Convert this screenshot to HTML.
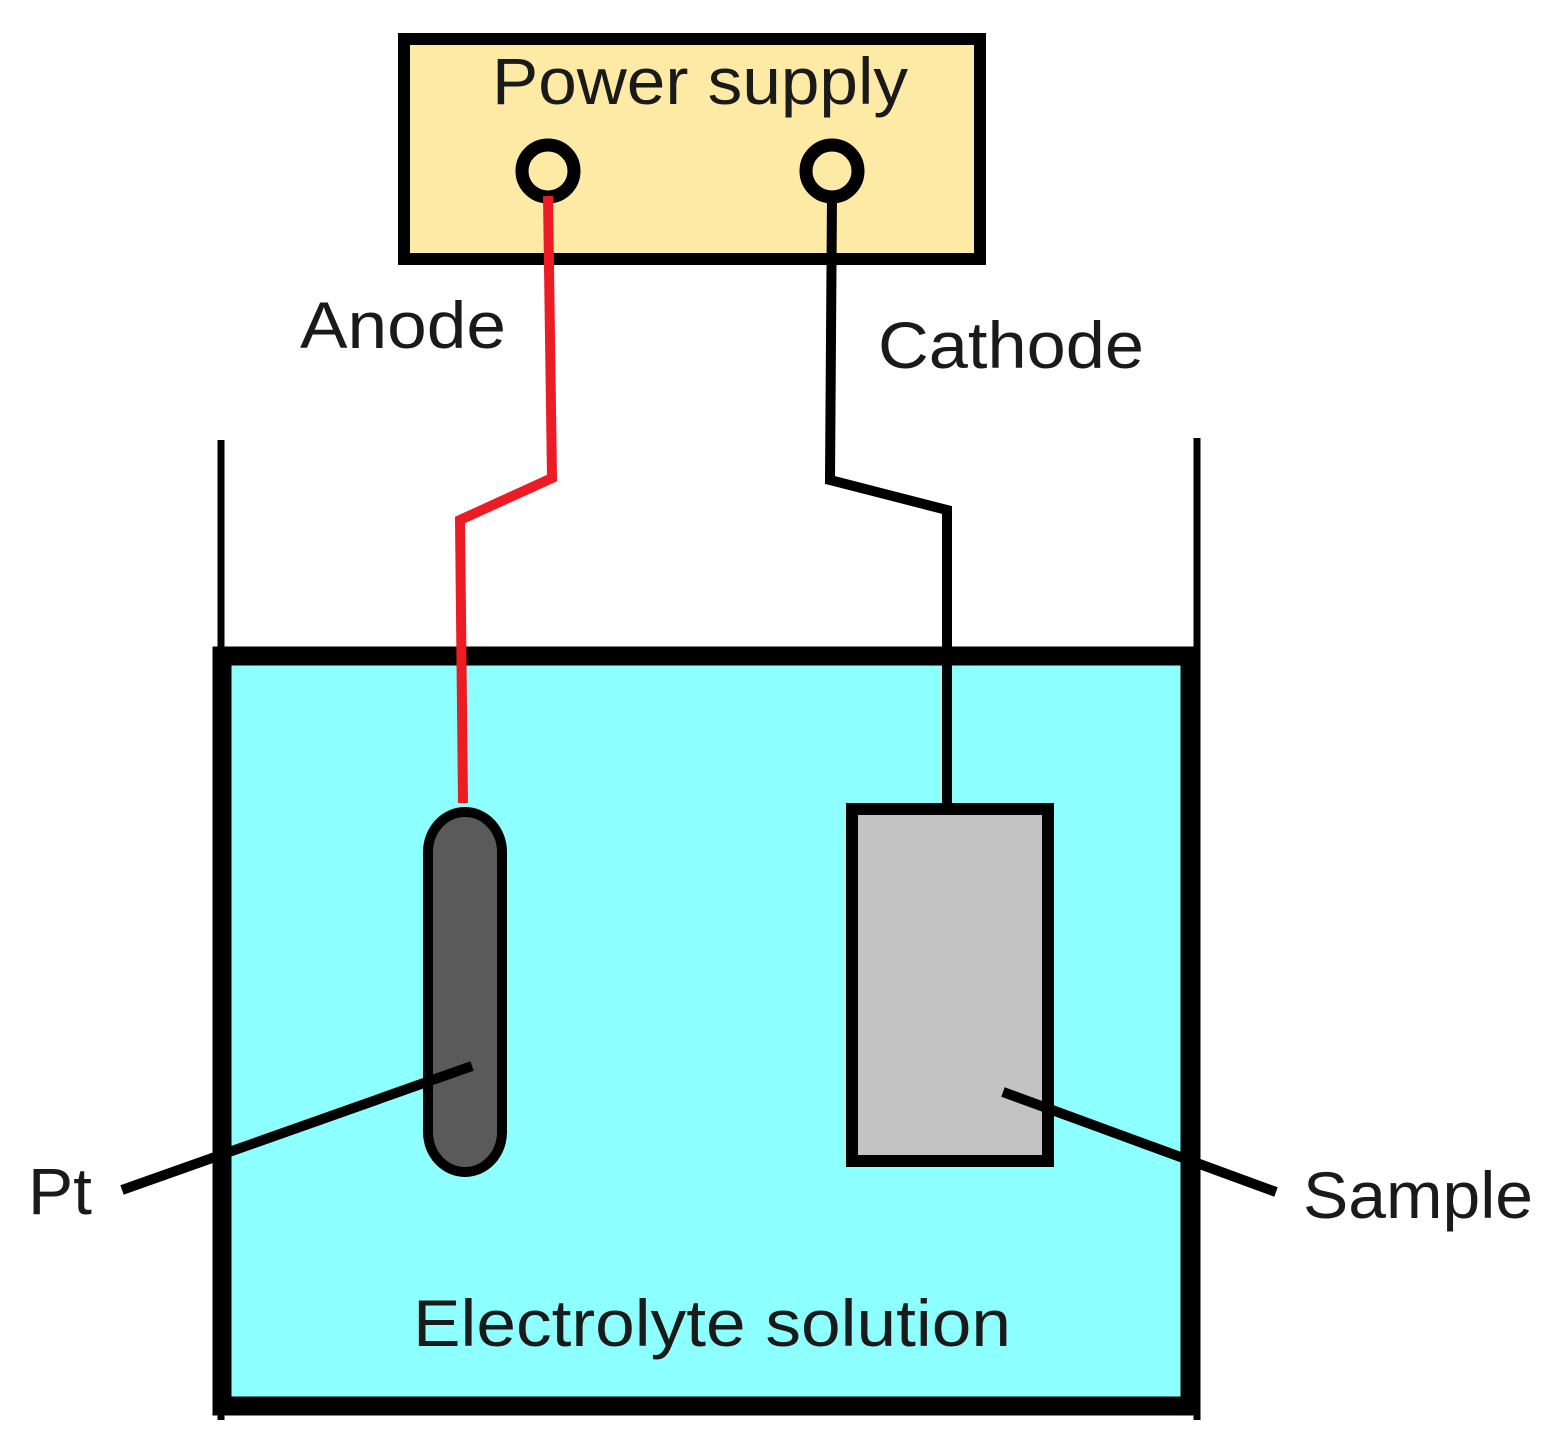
<!DOCTYPE html>
<html><head><meta charset="utf-8"><style>html,body{margin:0;padding:0;background:#fff}svg{display:block}</style></head>
<body>
<svg width="1561" height="1456" viewBox="0 0 1561 1456" xmlns="http://www.w3.org/2000/svg" font-family="Liberation Sans, sans-serif">
<rect x="404" y="39" width="576" height="220" fill="#fdeaa5" stroke="#000" stroke-width="12"/>
<text x="492" y="104" font-size="66" fill="#1a1a1a" textLength="416" lengthAdjust="spacingAndGlyphs">Power supply</text>
<circle cx="548" cy="171" r="26" fill="none" stroke="#000" stroke-width="13"/>
<circle cx="832" cy="171" r="26" fill="none" stroke="#000" stroke-width="13"/>
<line x1="221" y1="440" x2="221" y2="1420" stroke="#000" stroke-width="7"/>
<line x1="1197" y1="438" x2="1197" y2="1420" stroke="#000" stroke-width="7"/>
<rect x="222" y="656" width="968" height="750" fill="#8effff" stroke="#000" stroke-width="19"/>
<polyline points="548,196 552,478 460,520 463,803" fill="none" stroke="#ed1c24" stroke-width="10"/>
<polyline points="832,196 830,480 947,510 947,806" fill="none" stroke="#000" stroke-width="10"/>
<rect x="428" y="812" width="74" height="360" rx="37" ry="40" fill="#5a5a5a" stroke="#000" stroke-width="10"/>
<rect x="852" y="809" width="196" height="352" fill="#c3c3c3" stroke="#000" stroke-width="12"/>
<line x1="122" y1="1190" x2="472" y2="1066" stroke="#000" stroke-width="10"/>
<line x1="1003" y1="1092" x2="1276" y2="1192" stroke="#000" stroke-width="10"/>
<text x="300" y="348" font-size="66" fill="#1a1a1a" textLength="206" lengthAdjust="spacingAndGlyphs">Anode</text>
<text x="878" y="368" font-size="66" fill="#1a1a1a" textLength="266" lengthAdjust="spacingAndGlyphs">Cathode</text>
<text x="28" y="1214" font-size="66" fill="#1a1a1a" textLength="64" lengthAdjust="spacingAndGlyphs">Pt</text>
<text x="1303" y="1218" font-size="66" fill="#1a1a1a" textLength="230" lengthAdjust="spacingAndGlyphs">Sample</text>
<text x="413" y="1346" font-size="66" fill="#1a1a1a" textLength="598" lengthAdjust="spacingAndGlyphs">Electrolyte solution</text>
</svg>
</body></html>
